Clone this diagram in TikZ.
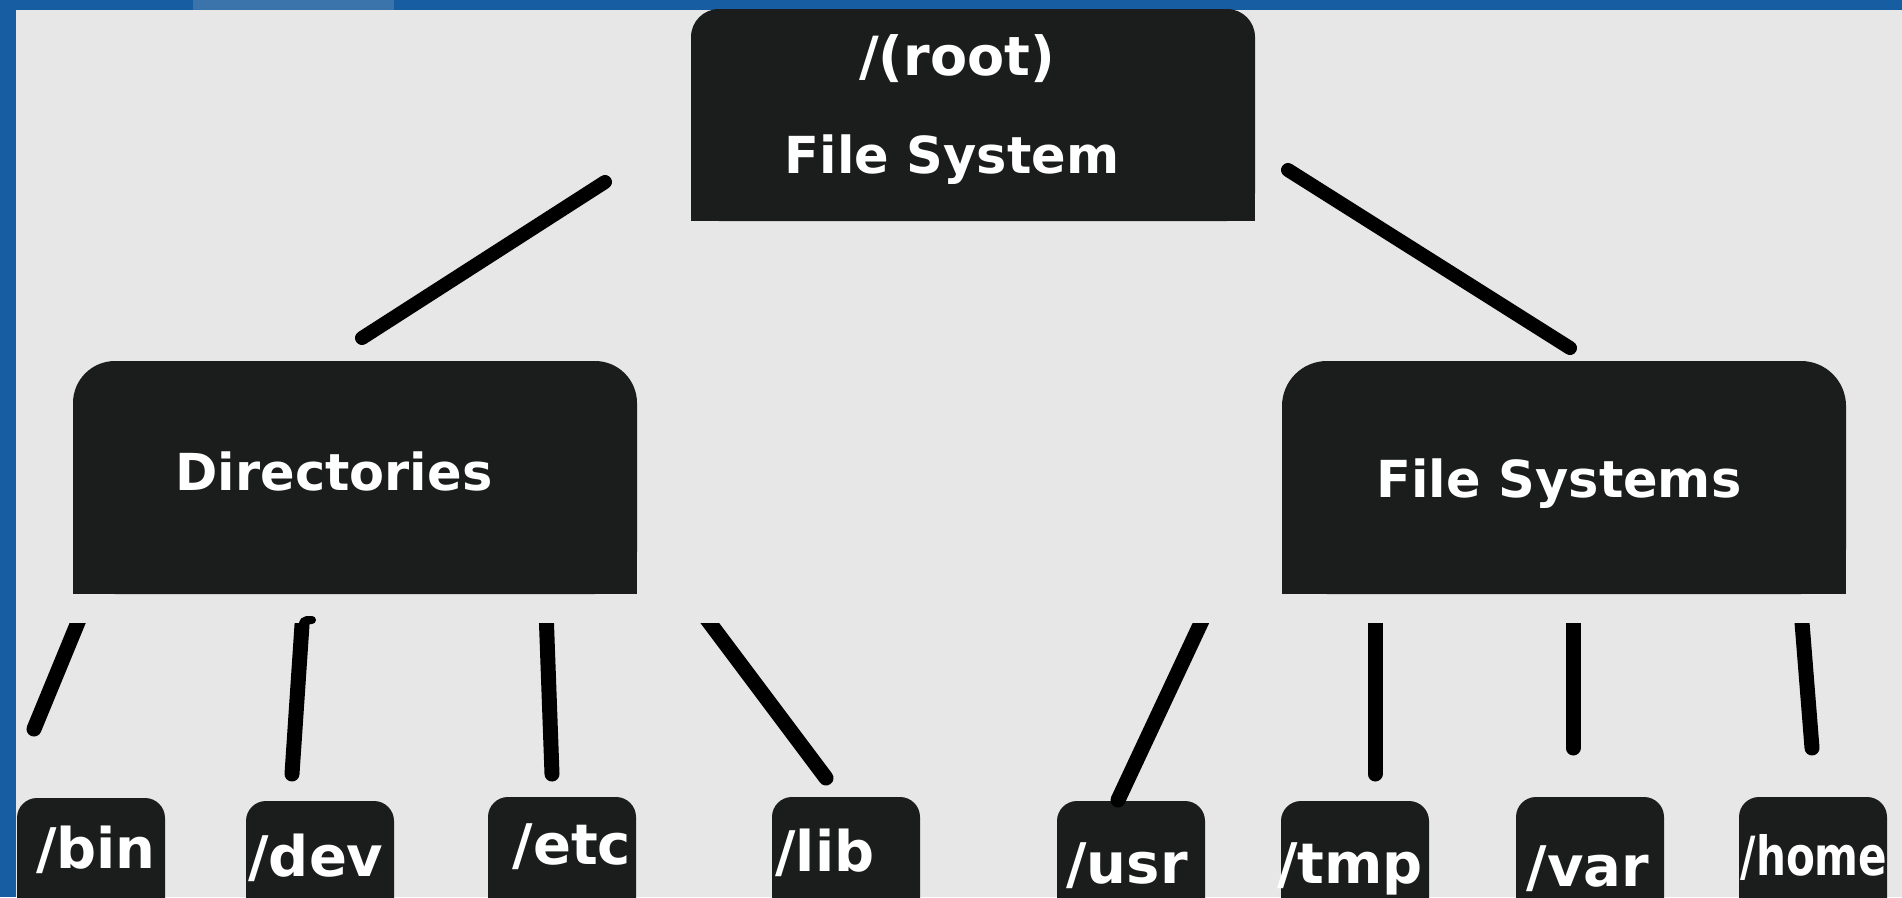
\documentclass[tikz,border=0pt]{standalone}
\usepackage{fontspec}
\setmainfont{DejaVu Sans}
\definecolor{frameblue}{HTML}{165DA2}
\definecolor{tabblue}{HTML}{3B74AB}
\definecolor{paper}{HTML}{E7E7E7}
\definecolor{boxc}{HTML}{1B1C1C}
\tikzset{
  blk/.style={fill=boxc, draw=none, inner sep=0pt, rounded corners=#1},
  hdr/.style={text=white, font=\bfseries\fontsize{51}{60}\selectfont, inner sep=0pt, anchor=base},
  lbl/.style={text=white, font=\bfseries\fontsize{56}{66}\selectfont, inner sep=0pt, anchor=base},
  link/.style={draw=black, line width=15pt, line cap=round},
  toplink/.style={draw=black, line width=14pt, line cap=round}
}
\begin{document}
\begin{tikzpicture}[x=1pt,y=-1pt]
\useasboundingbox (0,0) rectangle (1902,897);
\clip (0,0) rectangle (1902,897);
% window frame and canvas
\fill[frameblue] (0,0) rectangle (1902,897);
\fill[tabblue] (193,0) rectangle (394,10);
\fill[paper] (16,10) rectangle (1902,897);

% top level
\node[blk=28, minimum width=564pt, minimum height=212pt] (root) at (973,115) {};
\fill[boxc] (root.west) rectangle (root.south east);
\node[hdr, font=\bfseries\fontsize{54}{60}\selectfont] (root-a) at (957,75) {/(root)};
\node[hdr] (root-b) at (952,173) {File System};

% second level
\node[blk=42, minimum width=564pt, minimum height=233pt] (dirs) at (355,477.5) {};
\fill[boxc] (dirs.west) rectangle (dirs.south east);
\node[hdr] (dirs-t) at (334,490) {Directories};

\node[blk=45, minimum width=564pt, minimum height=233pt] (fs) at (1564,477.5) {};
\fill[boxc] (fs.west) rectangle (fs.south east);
\node[hdr] (fs-t) at (1559,497) {File Systems};

% leaves (cut by the lower edge)
\foreach \n/\cx/\top in {bin/91/798, dev/320/801, etc/562/797, lib/846/797,
                          usr/1131/801, tmp/1355/801, var/1590/797, home/1813/797}{
  \node[blk=20, minimum width=148pt, minimum height=200pt] (\n) at (\cx,\top+100) {};
}
\node[lbl] (bin-t)  at (96,868)   {/bin};
\node[lbl] (dev-t)  at (316,876)  {/dev};
\node[lbl] (etc-t)  at (572,864)  {/etc};
\node[lbl] (lib-t)  at (825,871)  {/lib};
\node[lbl] (usr-t)  at (1127,883) {/usr};
\node[lbl] (tmp-t)  at (1350,883) {/tmp};
\node[lbl] (var-t)  at (1588,886) {/var};
\node[lbl, font=\bfseries\fontsize{54}{60}\selectfont] (home-t) at (1814,875) {\scalebox{0.78}[1]{/home}};

% connector ends
\coordinate (rl-a) at (605,182);  \coordinate (rl-b) at (362,338);
\coordinate (rr-a) at (1288,170); \coordinate (rr-b) at (1570,348);
\coordinate (bin-a) at (83,610);   \coordinate (bin-b) at (34,729);
\coordinate (dev-a) at (303,610);  \coordinate (dev-b) at (292,774);
\coordinate (etc-a) at (546,610);  \coordinate (etc-b) at (552,774);
\coordinate (lib-a) at (700,610);  \coordinate (lib-b) at (826,778);
\coordinate (usr-a) at (1207,610); \coordinate (usr-b) at (1118,800);
\coordinate (tmp-a) at (1375,610); \coordinate (tmp-b) at (1375,774);
\coordinate (var-a) at (1573,610); \coordinate (var-b) at (1573,748);
\coordinate (home-a) at (1801,610); \coordinate (home-b) at (1812,748);

% connectors
\draw[toplink] (rl-a) -- (rl-b);
\draw[toplink] (rr-a) -- (rr-b);
\begin{scope}
  \clip (0,623) rectangle (1902,897);
  \draw[link] (bin-a) -- (bin-b);
  \draw[link] (dev-a) -- (dev-b);
  \draw[link] (etc-a) -- (etc-b);
  \draw[link] (lib-a) -- (lib-b);
  \draw[link] (usr-a) -- (usr-b);
  \draw[link] (tmp-a) -- (tmp-b);
  \draw[link] (var-a) -- (var-b);
  \draw[link] (home-a) -- (home-b);
\end{scope}
\draw[line width=8pt, line cap=round] (302,632) .. controls (303,620) .. (312,620);
\end{tikzpicture}
\end{document}
